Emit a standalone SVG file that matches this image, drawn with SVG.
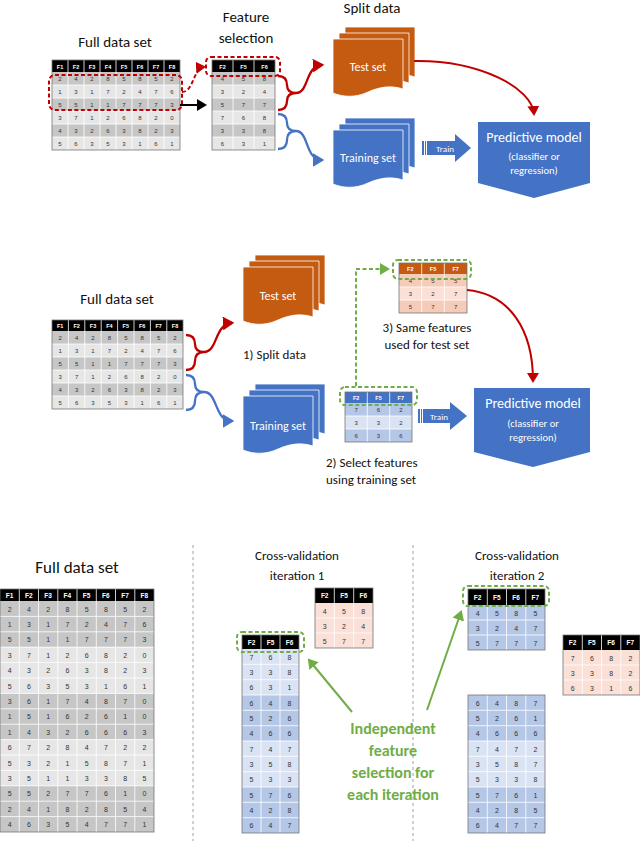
<svg xmlns="http://www.w3.org/2000/svg" width="640" height="841" viewBox="0 0 640 841">
<style>
text{font-family:"Liberation Sans",Arial,sans-serif}
.t{font-family:Calibri,"Carlito","Liberation Sans",sans-serif;fill:#111}
.c{font-size:6px;text-anchor:middle;fill:#333}
.cb{font-size:7px;text-anchor:middle;fill:#333}
.h{font-size:5.5px;font-weight:bold;text-anchor:middle;fill:#fff}
.hb{font-size:6.5px;font-weight:bold;text-anchor:middle;fill:#fff}
.sep{stroke:#fff;stroke-width:0.8;fill:none}
.bd{fill:none;stroke:#777;stroke-width:0.8}
.dk{fill:#c6c6c6}.lt{fill:#e6e6e6}
.bdk{fill:#b4c7e7}.blt{fill:#dae3f3}
.pk{fill:#fbe0d8}.pkd{fill:#f6cbb9}
.hd{fill:#000}
.wt{fill:#fff;text-anchor:middle}
.gt{fill:#70ad47;font-weight:bold;font-size:16px;text-anchor:middle}
.gd{fill:none;stroke:#70ad47;stroke-width:2;stroke-dasharray:4,2.5}
.rd{fill:none;stroke:#c00000;stroke-width:2;stroke-dasharray:4,2.5}
</style>
<defs>
<marker id="ar" markerWidth="6" markerHeight="6" refX="4" refY="3" orient="auto" markerUnits="strokeWidth"><path d="M0,0L5,3L0,6Z" fill="#c00000"/></marker>
<marker id="ab" markerWidth="6" markerHeight="6" refX="4" refY="3" orient="auto" markerUnits="strokeWidth"><path d="M0,0L5,3L0,6Z" fill="#4472c4"/></marker>
<marker id="ag" markerWidth="6" markerHeight="6" refX="4" refY="3" orient="auto" markerUnits="strokeWidth"><path d="M0,0L5,3L0,6Z" fill="#70ad47"/></marker>
<marker id="ak" markerWidth="6" markerHeight="6" refX="4" refY="3" orient="auto" markerUnits="strokeWidth"><path d="M0,0L5,3L0,6Z" fill="#000"/></marker>
<path id="doc" d="M0,0H70V50C58,46 46,48 35,53C22,59 10,58 0,54Z" stroke="#fff" stroke-width="0.8"/>
</defs>

<!-- ===== TOP SECTION ===== -->
<text class="t" x="115" y="47" font-size="15" text-anchor="middle">Full data set</text>
<text class="t" x="246" y="22" font-size="15" text-anchor="middle">Feature</text>
<text class="t" x="246" y="43" font-size="15" text-anchor="middle">selection</text>
<text class="t" x="372" y="13" font-size="15" text-anchor="middle">Split data</text>

<g id="top-full-table">
<rect class="hd" x="52" y="60" width="128" height="12"/>
<rect class="dk" x="52" y="72" width="128" height="13"/><rect class="lt" x="52" y="85" width="128" height="13"/>
<rect class="dk" x="52" y="98" width="128" height="13"/><rect class="lt" x="52" y="111" width="128" height="13"/>
<rect class="dk" x="52" y="124" width="128" height="13"/><rect class="lt" x="52" y="137" width="128" height="13"/>
<path class="sep" d="M68,60V150M84,60V150M100,60V150M116,60V150M132,60V150M148,60V150M164,60V150M52,85H180M52,98H180M52,111H180M52,124H180M52,137H180"/>
<rect class="bd" x="52" y="60" width="128" height="90"/>
<text class="h" y="68.5"><tspan x="60">F1</tspan><tspan x="76">F2</tspan><tspan x="92">F3</tspan><tspan x="108">F4</tspan><tspan x="124">F5</tspan><tspan x="140">F6</tspan><tspan x="156">F7</tspan><tspan x="172">F8</tspan></text>
<text class="c" x="60 76 92 108 124 140 156 172" y="81">24285852</text>
<text class="c" x="60 76 92 108 124 140 156 172" y="94">13172476</text>
<text class="c" x="60 76 92 108 124 140 156 172" y="107">55117773</text>
<text class="c" x="60 76 92 108 124 140 156 172" y="120">37126820</text>
<text class="c" x="60 76 92 108 124 140 156 172" y="133">43263823</text>
<text class="c" x="60 76 92 108 124 140 156 172" y="146">56353161</text>
</g>

<g id="top-feature-table">
<rect class="hd" x="212" y="60" width="63" height="12"/>
<rect class="dk" x="212" y="72" width="63" height="13"/><rect class="lt" x="212" y="85" width="63" height="13"/>
<rect class="dk" x="212" y="98" width="63" height="13"/><rect class="lt" x="212" y="111" width="63" height="13"/>
<rect class="dk" x="212" y="124" width="63" height="13"/><rect class="lt" x="212" y="137" width="63" height="13"/>
<path class="sep" d="M233,60V150M254,60V150M212,85H275M212,98H275M212,111H275M212,124H275M212,137H275"/>
<rect class="bd" x="212" y="60" width="63" height="90"/>
<text class="h" y="68.5"><tspan x="222.5">F2</tspan><tspan x="243.5">F5</tspan><tspan x="264.5">F6</tspan></text>
<text class="c" x="222.5 243.5 264.5" y="81">458</text>
<text class="c" x="222.5 243.5 264.5" y="94">324</text>
<text class="c" x="222.5 243.5 264.5" y="107">577</text>
<text class="c" x="222.5 243.5 264.5" y="120">768</text>
<text class="c" x="222.5 243.5 264.5" y="133">338</text>
<text class="c" x="222.5 243.5 264.5" y="146">631</text>
</g>

<g id="top-test-set">
<use href="#doc" x="345" y="27" fill="#c55a11"/>
<use href="#doc" x="339" y="33" fill="#c55a11"/>
<use href="#doc" x="333" y="39" fill="#c55a11"/>
<text class="t wt" x="368" y="71" font-size="12" style="fill:#fff">Test set</text>
</g>
<g id="top-training-set">
<use href="#doc" x="345" y="118" fill="#4472c4"/>
<use href="#doc" x="339" y="124" fill="#4472c4"/>
<use href="#doc" x="333" y="130" fill="#4472c4"/>
<text class="t wt" x="368" y="162" font-size="12" style="fill:#fff">Training set</text>
</g>
<g id="top-train-arrow">
<path d="M427,141H455V134L471,148L455,162V155H427Z" fill="#4472c4"/>
<rect x="422" y="141" width="2" height="14" fill="#4472c4"/>
<rect x="425" y="141" width="1" height="14" fill="#4472c4"/>
<text class="t wt" x="445" y="152" font-size="9" style="fill:#fff">Train</text>
</g>
<g id="top-model">
<path d="M478,122H590V183L534,198L478,183Z" fill="#4472c4"/>
<text class="t wt" x="534" y="142" font-size="14" style="fill:#fff">Predictive model</text>
<text class="t wt" x="534" y="160" font-size="10.5" style="fill:#fff">(classifier or</text>
<text class="t wt" x="534" y="174" font-size="10.5" style="fill:#fff">regression)</text>
</g>

<g id="top-connectors">
<rect class="rd" x="49" y="75" width="133" height="35" rx="6"/>
<rect class="rd" x="206" y="57" width="74" height="19" rx="5"/>
<path class="rd" d="M182,92C194,92 193,68 204,67" marker-end="url(#ar)" stroke-dasharray="3,2"/>
<path d="M180,105H205" stroke="#000" stroke-width="2" marker-end="url(#ak)"/>
<path d="M278,76Q287,76 287,85Q287,93 296,93M278,110Q287,110 287,101Q287,93 296,93C309,93 305,66 322,65" fill="none" stroke="#c00000" stroke-width="2.3" marker-end="url(#ar)"/>
<path d="M278,114Q287,114 287,123Q287,131 296,131M278,149Q287,149 287,140Q287,131 296,131C309,131 305,160 322,160" fill="none" stroke="#4472c4" stroke-width="2.3" marker-end="url(#ab)"/>
<path d="M414,61C480,60 532,88 534,114" fill="none" stroke="#c00000" stroke-width="2" marker-end="url(#ar)"/>
</g>

<!-- ===== MIDDLE SECTION ===== -->
<text class="t" x="117" y="304" font-size="15" text-anchor="middle">Full data set</text>
<g id="mid-full-table">
<rect class="hd" x="52" y="320" width="131" height="11"/>
<rect class="dk" x="52" y="331" width="131" height="13"/><rect class="lt" x="52" y="344" width="131" height="13"/>
<rect class="dk" x="52" y="357" width="131" height="13"/><rect class="lt" x="52" y="370" width="131" height="13"/>
<rect class="dk" x="52" y="383" width="131" height="13"/><rect class="lt" x="52" y="396" width="131" height="13"/>
<path class="sep" d="M68.4,320V409M84.8,320V409M101.2,320V409M117.6,320V409M134,320V409M150.4,320V409M166.8,320V409M52,344H183M52,357H183M52,370H183M52,383H183M52,396H183"/>
<rect class="bd" x="52" y="320" width="131" height="89"/>
<text class="h" y="328"><tspan x="60.2">F1</tspan><tspan x="76.6">F2</tspan><tspan x="93">F3</tspan><tspan x="109.4">F4</tspan><tspan x="125.8">F5</tspan><tspan x="142.2">F6</tspan><tspan x="158.6">F7</tspan><tspan x="175">F8</tspan></text>
<text class="c" x="60.2 76.6 93 109.4 125.8 142.2 158.6 175" y="340">24285852</text>
<text class="c" x="60.2 76.6 93 109.4 125.8 142.2 158.6 175" y="353">13172476</text>
<text class="c" x="60.2 76.6 93 109.4 125.8 142.2 158.6 175" y="366">55117773</text>
<text class="c" x="60.2 76.6 93 109.4 125.8 142.2 158.6 175" y="379">37126820</text>
<text class="c" x="60.2 76.6 93 109.4 125.8 142.2 158.6 175" y="392">43263823</text>
<text class="c" x="60.2 76.6 93 109.4 125.8 142.2 158.6 175" y="405">56353161</text>
</g>
<g id="mid-test-set">
<use href="#doc" x="255" y="255" fill="#c55a11"/>
<use href="#doc" x="249" y="261" fill="#c55a11"/>
<use href="#doc" x="243" y="267" fill="#c55a11"/>
<text class="t wt" x="278" y="300" font-size="12" style="fill:#fff">Test set</text>
</g>
<g id="mid-training-set">
<use href="#doc" x="255" y="384" fill="#4472c4"/>
<use href="#doc" x="249" y="390" fill="#4472c4"/>
<use href="#doc" x="243" y="396" fill="#4472c4"/>
<text class="t wt" x="278" y="430" font-size="12" style="fill:#fff">Training set</text>
</g>
<text class="t" x="243" y="359" font-size="13">1) Split data</text>

<g id="mid-test-table">
<rect fill="#c55a11" x="399" y="263" width="68" height="11"/>
<rect class="pkd" x="399" y="274" width="68" height="13"/><rect class="pk" x="399" y="287" width="68" height="13"/><rect class="pkd" x="399" y="300" width="68" height="13"/>
<path class="sep" d="M421.7,263V313M444.3,263V313M399,287H467M399,300H467"/>
<rect class="bd" x="399" y="263" width="68" height="50"/>
<text class="h" y="271"><tspan x="410.3">F2</tspan><tspan x="433">F5</tspan><tspan x="455.7">F7</tspan></text>
<text class="c" x="410.3 433 455.7" y="283">455</text>
<text class="c" x="410.3 433 455.7" y="296">327</text>
<text class="c" x="410.3 433 455.7" y="309">577</text>
</g>
<text class="t" x="427" y="332" font-size="13" text-anchor="middle">3) Same features</text>
<text class="t" x="427" y="349" font-size="13" text-anchor="middle">used for test set</text>

<g id="mid-train-table">
<rect fill="#4472c4" x="345" y="392" width="67" height="11"/>
<rect class="bdk" x="345" y="403" width="67" height="13"/><rect class="blt" x="345" y="416" width="67" height="13"/><rect class="bdk" x="345" y="429" width="67" height="13"/>
<path class="sep" d="M367.3,392V442M389.7,392V442M345,416H412M345,429H412"/>
<rect class="bd" x="345" y="392" width="67" height="50"/>
<text class="h" y="400"><tspan x="356.2">F2</tspan><tspan x="378.5">F5</tspan><tspan x="400.8">F7</tspan></text>
<text class="c" x="356.2 378.5 400.8" y="412">762</text>
<text class="c" x="356.2 378.5 400.8" y="425">332</text>
<text class="c" x="356.2 378.5 400.8" y="438">636</text>
</g>
<text class="t" x="326" y="467" font-size="13">2) Select features</text>
<text class="t" x="326" y="484" font-size="13">using training set</text>

<g id="mid-train-arrow">
<path d="M423,409H450V402L467,416L450,430V423H423Z" fill="#4472c4"/>
<rect x="418" y="409" width="2" height="14" fill="#4472c4"/>
<rect x="421" y="409" width="1" height="14" fill="#4472c4"/>
<text class="t wt" x="439" y="420" font-size="9" style="fill:#fff">Train</text>
</g>
<g id="mid-model">
<path d="M474,388H590V452L533,467L474,452Z" fill="#4472c4"/>
<text class="t wt" x="533" y="408" font-size="14" style="fill:#fff">Predictive model</text>
<text class="t wt" x="533" y="427" font-size="10.5" style="fill:#fff">(classifier or</text>
<text class="t wt" x="533" y="441" font-size="10.5" style="fill:#fff">regression)</text>
</g>

<g id="mid-connectors">
<path d="M186,335Q195,335 195,344Q195,352 204,352M186,370Q195,370 195,361Q195,352 204,352C218,352 214,324 232,323" fill="none" stroke="#c00000" stroke-width="2.3" marker-end="url(#ar)"/>
<path d="M186,375Q195,375 195,384Q195,392 204,392M186,410Q195,410 195,401Q195,392 204,392C218,392 214,421 232,421" fill="none" stroke="#4472c4" stroke-width="2.3" marker-end="url(#ab)"/>
<rect class="gd" x="393" y="260" width="78" height="19" rx="5"/>
<rect class="gd" x="340" y="387" width="77" height="18" rx="5"/>
<path class="gd" d="M356,386V269H388" marker-end="url(#ag)"/>
<path d="M467,290C510,294 533,330 533,381" fill="none" stroke="#c00000" stroke-width="2" marker-end="url(#ar)"/>
</g>

<!-- ===== BOTTOM SECTION ===== -->
<path d="M193,545V841M413,545V841" stroke="#888" stroke-width="0.8" stroke-dasharray="3,3"/>
<text class="t" x="77" y="573" font-size="17" text-anchor="middle">Full data set</text>
<text class="t" x="297" y="560" font-size="13" text-anchor="middle">Cross-validation</text>
<text class="t" x="297" y="580" font-size="13" text-anchor="middle">iteration 1</text>
<text class="t" x="517" y="560" font-size="13" text-anchor="middle">Cross-validation</text>
<text class="t" x="517" y="580" font-size="13" text-anchor="middle">iteration 2</text>

<g id="bottom-full-table">
<rect class="hd" x="0" y="589" width="154" height="12"/>
<rect class="dk" x="0" y="601" width="154" height="46.2"/>
<rect class="lt" x="0" y="647.2" width="154" height="46.2"/>
<rect class="dk" x="0" y="693.4" width="154" height="46.2"/>
<rect class="lt" x="0" y="739.6" width="154" height="46.2"/>
<rect class="dk" x="0" y="785.8" width="154" height="46.2"/>
<path class="sep" d="M19.3,589V832M38.5,589V832M57.8,589V832M77,589V832M96.3,589V832M115.5,589V832M134.8,589V832M0,616.4H154M0,631.8H154M0,647.2H154M0,662.6H154M0,678H154M0,693.4H154M0,708.8H154M0,724.2H154M0,739.6H154M0,755H154M0,770.4H154M0,785.8H154M0,801.2H154M0,816.6H154"/>
<rect class="bd" x="0" y="589" width="154" height="243"/>
<text class="hb" y="597.5"><tspan x="9.6">F1</tspan><tspan x="28.9">F2</tspan><tspan x="48.1">F3</tspan><tspan x="67.4">F4</tspan><tspan x="86.6">F5</tspan><tspan x="105.9">F6</tspan><tspan x="125.1">F7</tspan><tspan x="144.4">F8</tspan></text>
<text class="cb" x="9.6 28.9 48.1 67.4 86.6 105.9 125.1 144.4" y="611.5">24285852</text>
<text class="cb" x="9.6 28.9 48.1 67.4 86.6 105.9 125.1 144.4" y="626.9">13172476</text>
<text class="cb" x="9.6 28.9 48.1 67.4 86.6 105.9 125.1 144.4" y="642.3">55117773</text>
<text class="cb" x="9.6 28.9 48.1 67.4 86.6 105.9 125.1 144.4" y="657.7">37126820</text>
<text class="cb" x="9.6 28.9 48.1 67.4 86.6 105.9 125.1 144.4" y="673.1">43263823</text>
<text class="cb" x="9.6 28.9 48.1 67.4 86.6 105.9 125.1 144.4" y="688.5">56353161</text>
<text class="cb" x="9.6 28.9 48.1 67.4 86.6 105.9 125.1 144.4" y="703.9">36174870</text>
<text class="cb" x="9.6 28.9 48.1 67.4 86.6 105.9 125.1 144.4" y="719.3">15162610</text>
<text class="cb" x="9.6 28.9 48.1 67.4 86.6 105.9 125.1 144.4" y="734.7">14326663</text>
<text class="cb" x="9.6 28.9 48.1 67.4 86.6 105.9 125.1 144.4" y="750.1">67284722</text>
<text class="cb" x="9.6 28.9 48.1 67.4 86.6 105.9 125.1 144.4" y="765.5">53215871</text>
<text class="cb" x="9.6 28.9 48.1 67.4 86.6 105.9 125.1 144.4" y="780.9">35113385</text>
<text class="cb" x="9.6 28.9 48.1 67.4 86.6 105.9 125.1 144.4" y="796.3">55277610</text>
<text class="cb" x="9.6 28.9 48.1 67.4 86.6 105.9 125.1 144.4" y="811.7">24182854</text>
<text class="cb" x="9.6 28.9 48.1 67.4 86.6 105.9 125.1 144.4" y="827.1">46354771</text>
</g>

<g id="iter1-test-table">
<rect class="hd" x="315" y="588" width="58" height="15"/>
<rect class="pk" x="315" y="603" width="58" height="45"/>
<path class="sep" d="M334.3,588V648M353.7,588V648M315,618H373M315,633H373"/>
<rect class="bd" x="315" y="588" width="58" height="60"/>
<text class="hb" y="598"><tspan x="324.7">F2</tspan><tspan x="344">F5</tspan><tspan x="363.3">F6</tspan></text>
<text class="cb" x="324.7 344 363.3" y="613.5">458</text>
<text class="cb" x="324.7 344 363.3" y="628.5">324</text>
<text class="cb" x="324.7 344 363.3" y="643.5">577</text>
</g>

<g id="iter1-train-table">
<rect class="hd" x="242" y="635" width="57" height="14"/>
<rect class="blt" x="242" y="649" width="57" height="46"/>
<rect class="bdk" x="242" y="695" width="57" height="46"/>
<rect class="blt" x="242" y="741" width="57" height="46"/>
<rect class="bdk" x="242" y="787" width="57" height="46"/>
<path class="sep" d="M261,635V833M280,635V833M242,664.3H299M242,679.7H299M242,695H299M242,710.3H299M242,725.7H299M242,741H299M242,756.3H299M242,771.7H299M242,787H299M242,802.3H299M242,817.7H299"/>
<rect class="bd" x="242" y="635" width="57" height="198"/>
<text class="hb" y="644.5"><tspan x="251.5">F2</tspan><tspan x="270.5">F5</tspan><tspan x="289.5">F6</tspan></text>
<text class="cb" x="251.5 270.5 289.5" y="659.5">768</text>
<text class="cb" x="251.5 270.5 289.5" y="674.8">338</text>
<text class="cb" x="251.5 270.5 289.5" y="690.2">631</text>
<text class="cb" x="251.5 270.5 289.5" y="705.5">648</text>
<text class="cb" x="251.5 270.5 289.5" y="720.8">526</text>
<text class="cb" x="251.5 270.5 289.5" y="736.2">466</text>
<text class="cb" x="251.5 270.5 289.5" y="751.5">747</text>
<text class="cb" x="251.5 270.5 289.5" y="766.8">358</text>
<text class="cb" x="251.5 270.5 289.5" y="782.2">533</text>
<text class="cb" x="251.5 270.5 289.5" y="797.5">576</text>
<text class="cb" x="251.5 270.5 289.5" y="812.8">428</text>
<text class="cb" x="251.5 270.5 289.5" y="828.2">647</text>
</g>

<g id="iter2-train-top">
<rect class="hd" x="468" y="589" width="77" height="16"/>
<rect class="bdk" x="468" y="605" width="77" height="45"/>
<path class="sep" d="M487.3,589V650M506.5,589V650M525.8,589V650M468,620H545M468,635H545"/>
<rect class="bd" x="468" y="589" width="77" height="61"/>
<text class="hb" y="599.5"><tspan x="477.6">F2</tspan><tspan x="496.9">F5</tspan><tspan x="516.1">F6</tspan><tspan x="535.4">F7</tspan></text>
<text class="cb" x="477.6 496.9 516.1 535.4" y="615.5">4585</text>
<text class="cb" x="477.6 496.9 516.1 535.4" y="630.5">3247</text>
<text class="cb" x="477.6 496.9 516.1 535.4" y="645.5">5777</text>
</g>

<g id="iter2-test-table">
<rect class="hd" x="563" y="635" width="77" height="15"/>
<rect class="pk" x="563" y="650" width="77" height="45"/>
<path class="sep" d="M582.3,635V695M601.5,635V695M620.8,635V695M563,665H640M563,680H640"/>
<rect class="bd" x="563" y="635" width="77" height="60"/>
<text class="hb" y="645"><tspan x="572.6">F2</tspan><tspan x="591.9">F5</tspan><tspan x="611.1">F6</tspan><tspan x="630.4">F7</tspan></text>
<text class="cb" x="572.6 591.9 611.1 630.4" y="660.5">7682</text>
<text class="cb" x="572.6 591.9 611.1 630.4" y="675.5">3382</text>
<text class="cb" x="572.6 591.9 611.1 630.4" y="690.5">6316</text>
</g>

<g id="iter2-train-bottom">
<rect class="bdk" x="468" y="695" width="77" height="46"/>
<rect class="blt" x="468" y="741" width="77" height="46"/>
<rect class="bdk" x="468" y="787" width="77" height="46"/>
<path class="sep" d="M487.3,695V833M506.5,695V833M525.8,695V833M468,710.3H545M468,725.7H545M468,741H545M468,756.3H545M468,771.7H545M468,787H545M468,802.3H545M468,817.7H545"/>
<rect class="bd" x="468" y="695" width="77" height="138"/>
<text class="cb" x="477.6 496.9 516.1 535.4" y="705.5">6487</text>
<text class="cb" x="477.6 496.9 516.1 535.4" y="720.8">5261</text>
<text class="cb" x="477.6 496.9 516.1 535.4" y="736.2">4666</text>
<text class="cb" x="477.6 496.9 516.1 535.4" y="751.5">7472</text>
<text class="cb" x="477.6 496.9 516.1 535.4" y="766.8">3587</text>
<text class="cb" x="477.6 496.9 516.1 535.4" y="782.2">5338</text>
<text class="cb" x="477.6 496.9 516.1 535.4" y="797.5">5761</text>
<text class="cb" x="477.6 496.9 516.1 535.4" y="812.8">4285</text>
<text class="cb" x="477.6 496.9 516.1 535.4" y="828.2">6477</text>
</g>

<g id="bottom-connectors">
<rect class="gd" x="237" y="632" width="67" height="20" rx="5"/>
<rect class="gd" x="463" y="586" width="86" height="20" rx="5"/>
<path d="M352,712L309,660" stroke="#70ad47" stroke-width="2" fill="none" marker-end="url(#ag)"/>
<path d="M427,710L461,612" stroke="#70ad47" stroke-width="2" fill="none" marker-end="url(#ag)"/>
</g>
<g id="bottom-label">
<text class="t gt" x="393" y="734" style="fill:#70ad47">Independent</text>
<text class="t gt" x="393" y="756" style="fill:#70ad47">feature</text>
<text class="t gt" x="393" y="778" style="fill:#70ad47">selection for</text>
<text class="t gt" x="393" y="800" style="fill:#70ad47">each iteration</text>
</g>
</svg>
